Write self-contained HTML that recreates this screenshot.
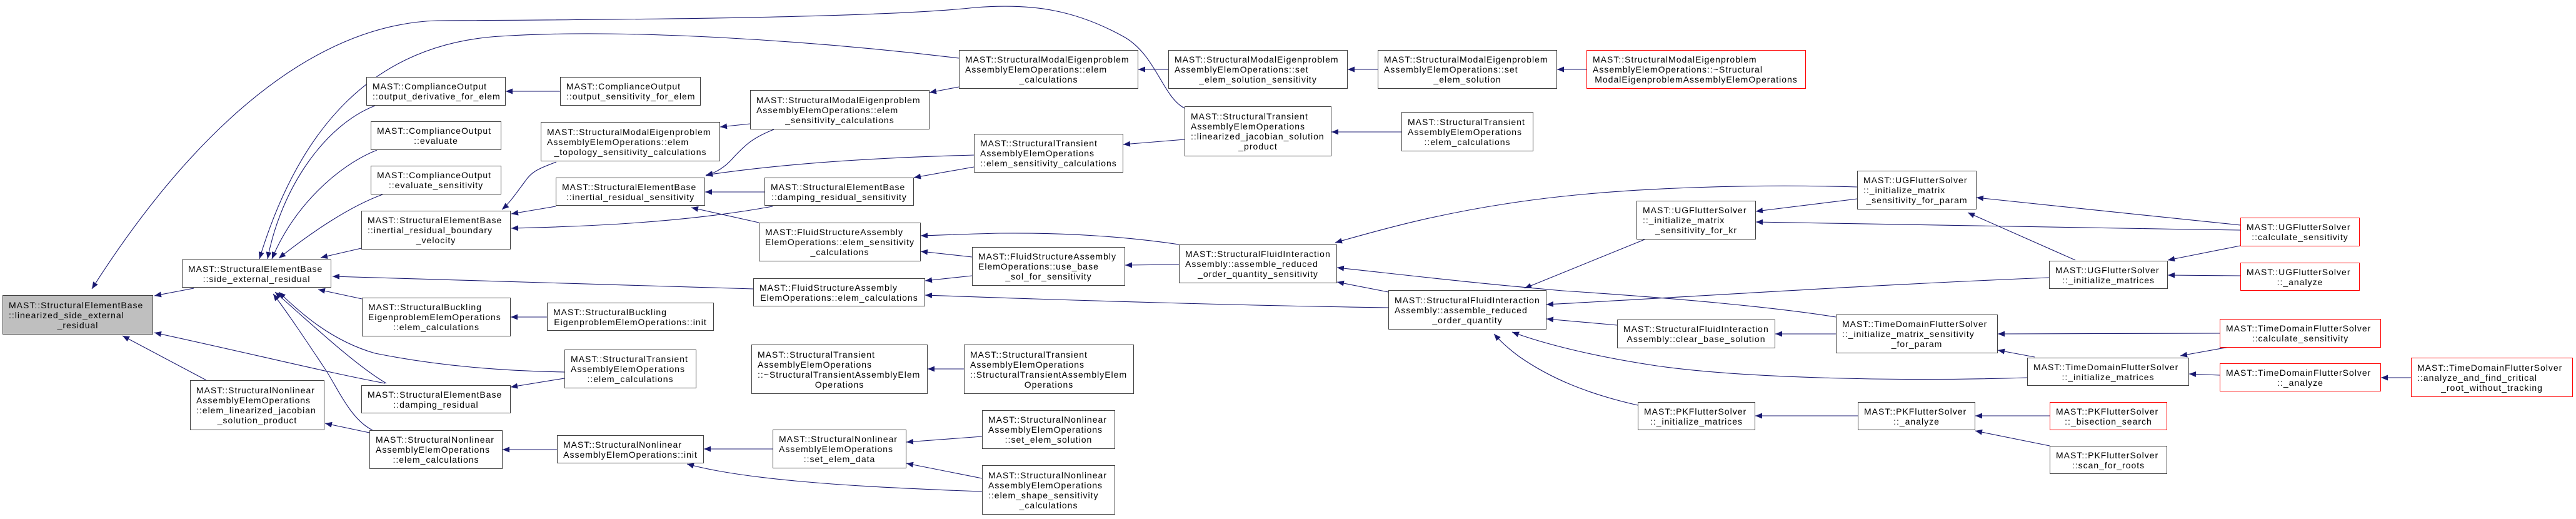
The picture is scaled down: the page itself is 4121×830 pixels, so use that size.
<!DOCTYPE html>
<html><head><meta charset="utf-8">
<style>
html,body{margin:0;padding:0;background:#fff;}
body{width:4121px;height:830px;position:relative;overflow:hidden;font-family:"Liberation Sans",Arial,sans-serif;}
svg{position:absolute;left:0;top:0;}
.n{position:absolute;box-sizing:border-box;border:1px solid #404040;background:#fff;display:flex;flex-direction:column;justify-content:center;padding:0 9px;font-size:14px;letter-spacing:1px;line-height:16px;color:#000;white-space:nowrap;}
.n div{text-align:left;}
.n div:last-child{text-align:center;}
.r{border-color:#ff0000;}
.g{background:#bfbfbf;}
</style></head><body>
<svg width="4121" height="830" viewBox="0 0 4121 830">
<defs><marker id="a" markerUnits="userSpaceOnUse" markerWidth="12" markerHeight="10" refX="11" refY="4.5" orient="auto"><path d="M0,0 L11,4.5 L0,9 z" fill="#191970"/></marker></defs>
<g fill="none" stroke="#191970" stroke-width="1.1" marker-end="url(#a)">
<path d="M310,461 L247,473"/>
<path d="M330,608 Q268,575 196,537"/>
<path d="M1895,173 C1860,155 1850,90 1800,60 C1720,15 1650,5 1560,12 C1400,30 900,32 700,33 C450,40 250,300 147,462"/>
<path d="M1534,93 C1300,65 1000,45 800,58 C600,70 480,200 415,414"/>
<path d="M600,169 C520,200 450,300 428,414"/>
<path d="M603,240 C540,265 470,330 435,414"/>
<path d="M612,311 C560,330 500,370 446,413"/>
<path d="M578,397 L513,412"/>
<path d="M1205,462 C1000,456 800,448 532,442"/>
<path d="M579,478 L509,463"/>
<path d="M903,595 C800,593 700,585 600,565 C530,545 480,500 446,467"/>
<path d="M618,613 C570,585 500,520 440,467"/>
<path d="M596,688 C560,670 540,620 520,590 C490,545 460,500 437,470"/>
<path d="M616,613 C520,595 400,565 247,532"/>
<path d="M591,692 L520,677"/>
<path d="M896,146 L809,146"/>
<path d="M890,259 C860,270 850,275 840,290 C825,310 815,325 803,335"/>
<path d="M889,330 L818,342"/>
<path d="M1236,330 C1100,355 950,362 818,365"/>
<path d="M875,507 L817,507"/>
<path d="M903,605 L817,619"/>
<path d="M891,719 L804,719"/>
<path d="M1200,198 L1152,203"/>
<path d="M1238,207 C1200,222 1190,235 1175,250 C1160,268 1145,276 1129,281"/>
<path d="M1558,248 C1400,252 1250,262 1129,280"/>
<path d="M1223,307 L1128,307"/>
<path d="M1214,356 L1106,332"/>
<path d="M1236,718 L1126,718"/>
<path d="M1571,786 C1400,780 1200,770 1099,742"/>
<path d="M1534,139 L1487,148"/>
<path d="M1869,111 L1821,111"/>
<path d="M1558,267 L1462,284"/>
<path d="M1895,223 L1797,231"/>
<path d="M1886,391 C1800,378 1700,372 1600,373 C1550,374 1510,376 1473,377"/>
<path d="M1555,411 L1473,402"/>
<path d="M1555,441 L1480,449"/>
<path d="M2221,492 C2000,489 1700,480 1480,472"/>
<path d="M1542,590 L1484,590"/>
<path d="M1571,698 L1450,707"/>
<path d="M1571,765 L1450,741"/>
<path d="M1886,423 L1800,424"/>
<path d="M2204,111 L2156,111"/>
<path d="M2538,111 L2491,111"/>
<path d="M2242,211 L2130,211"/>
<path d="M2971,299 C2800,294 2600,300 2450,320 C2300,340 2200,370 2136,388"/>
<path d="M2937,507 C2850,493 2700,478 2500,465 C2350,452 2250,440 2139,428"/>
<path d="M2221,467 L2139,451"/>
<path d="M2631,383 L2439,461"/>
<path d="M3278,444 C3000,455 2700,475 2474,487"/>
<path d="M2587,520 L2474,510"/>
<path d="M3243,604 C3050,610 2800,606 2650,585 C2550,570 2470,550 2419,531"/>
<path d="M2620,648 C2540,630 2480,605 2430,570 C2410,555 2400,545 2390,534"/>
<path d="M2971,318 L2809,338"/>
<path d="M3584,368 C3300,364 3000,358 2809,355"/>
<path d="M3584,360 C3450,347 3300,330 3162,316"/>
<path d="M3320,416 L3148,340"/>
<path d="M2937,534 L2840,534"/>
<path d="M3551,533 L3196,534"/>
<path d="M3255,571 L3196,560"/>
<path d="M2972,665 L2808,665"/>
<path d="M3279,665 L3160,665"/>
<path d="M3279,713 L3160,689"/>
<path d="M3584,393 L3468,416"/>
<path d="M3584,441 L3468,440"/>
<path d="M3566,555 L3488,569"/>
<path d="M3551,600 L3502,598"/>
<path d="M3857,604 L3809,604"/>
</g>
</svg>

<div class="n g" style="left:4px;top:472px;width:241px;height:63px"><div>MAST::StructuralElementBase</div><div>::linearized_side_external</div><div>_residual</div></div>
<div class="n" style="left:291px;top:415px;width:239px;height:45px"><div>MAST::StructuralElementBase</div><div>::side_external_residual</div></div>
<div class="n" style="left:304px;top:608px;width:215px;height:80px"><div>MAST::StructuralNonlinear</div><div>AssemblyElemOperations</div><div>::elem_linearized_jacobian</div><div>_solution_product</div></div>
<div class="n" style="left:586px;top:123px;width:223px;height:46px"><div>MAST::ComplianceOutput</div><div>::output_derivative_for_elem</div></div>
<div class="n" style="left:593px;top:194px;width:209px;height:46px"><div>MAST::ComplianceOutput</div><div>::evaluate</div></div>
<div class="n" style="left:593px;top:265px;width:209px;height:46px"><div>MAST::ComplianceOutput</div><div>::evaluate_sensitivity</div></div>
<div class="n" style="left:578px;top:337px;width:239px;height:62px"><div>MAST::StructuralElementBase</div><div>::inertial_residual_boundary</div><div>_velocity</div></div>
<div class="n" style="left:579px;top:476px;width:238px;height:62px"><div>MAST::StructuralBuckling</div><div>EigenproblemElemOperations</div><div>::elem_calculations</div></div>
<div class="n" style="left:578px;top:616px;width:239px;height:45px"><div>MAST::StructuralElementBase</div><div>::damping_residual</div></div>
<div class="n" style="left:591px;top:688px;width:213px;height:62px"><div>MAST::StructuralNonlinear</div><div>AssemblyElemOperations</div><div>::elem_calculations</div></div>
<div class="n" style="left:896px;top:123px;width:225px;height:46px"><div>MAST::ComplianceOutput</div><div>::output_sensitivity_for_elem</div></div>
<div class="n" style="left:865px;top:195px;width:287px;height:63px"><div>MAST::StructuralModalEigenproblem</div><div>AssemblyElemOperations::elem</div><div>_topology_sensitivity_calculations</div></div>
<div class="n" style="left:889px;top:284px;width:239px;height:45px"><div>MAST::StructuralElementBase</div><div>::inertial_residual_sensitivity</div></div>
<div class="n" style="left:875px;top:484px;width:267px;height:45px"><div>MAST::StructuralBuckling</div><div>EigenproblemElemOperations::init</div></div>
<div class="n" style="left:903px;top:559px;width:211px;height:62px"><div>MAST::StructuralTransient</div><div>AssemblyElemOperations</div><div>::elem_calculations</div></div>
<div class="n" style="left:891px;top:696px;width:235px;height:45px"><div>MAST::StructuralNonlinear</div><div>AssemblyElemOperations::init</div></div>
<div class="n" style="left:1200px;top:144px;width:287px;height:63px"><div>MAST::StructuralModalEigenproblem</div><div>AssemblyElemOperations::elem</div><div>_sensitivity_calculations</div></div>
<div class="n" style="left:1223px;top:284px;width:239px;height:45px"><div>MAST::StructuralElementBase</div><div>::damping_residual_sensitivity</div></div>
<div class="n" style="left:1214px;top:356px;width:259px;height:62px"><div>MAST::FluidStructureAssembly</div><div>ElemOperations::elem_sensitivity</div><div>_calculations</div></div>
<div class="n" style="left:1205px;top:445px;width:275px;height:45px"><div>MAST::FluidStructureAssembly</div><div>ElemOperations::elem_calculations</div></div>
<div class="n" style="left:1202px;top:551px;width:282px;height:79px"><div>MAST::StructuralTransient</div><div>AssemblyElemOperations</div><div>::~StructuralTransientAssemblyElem</div><div>Operations</div></div>
<div class="n" style="left:1236px;top:687px;width:214px;height:62px"><div>MAST::StructuralNonlinear</div><div>AssemblyElemOperations</div><div>::set_elem_data</div></div>
<div class="n" style="left:1534px;top:80px;width:287px;height:62px"><div>MAST::StructuralModalEigenproblem</div><div>AssemblyElemOperations::elem</div><div>_calculations</div></div>
<div class="n" style="left:1558px;top:214px;width:239px;height:62px"><div>MAST::StructuralTransient</div><div>AssemblyElemOperations</div><div>::elem_sensitivity_calculations</div></div>
<div class="n" style="left:1555px;top:395px;width:245px;height:62px"><div>MAST::FluidStructureAssembly</div><div>ElemOperations::use_base</div><div>_sol_for_sensitivity</div></div>
<div class="n" style="left:1542px;top:551px;width:272px;height:79px"><div>MAST::StructuralTransient</div><div>AssemblyElemOperations</div><div>::StructuralTransientAssemblyElem</div><div>Operations</div></div>
<div class="n" style="left:1571px;top:656px;width:213px;height:62px"><div>MAST::StructuralNonlinear</div><div>AssemblyElemOperations</div><div>::set_elem_solution</div></div>
<div class="n" style="left:1571px;top:744px;width:213px;height:79px"><div>MAST::StructuralNonlinear</div><div>AssemblyElemOperations</div><div>::elem_shape_sensitivity</div><div>_calculations</div></div>
<div class="n" style="left:1869px;top:80px;width:287px;height:62px"><div>MAST::StructuralModalEigenproblem</div><div>AssemblyElemOperations::set</div><div>_elem_solution_sensitivity</div></div>
<div class="n" style="left:1895px;top:170px;width:235px;height:80px"><div>MAST::StructuralTransient</div><div>AssemblyElemOperations</div><div>::linearized_jacobian_solution</div><div>_product</div></div>
<div class="n" style="left:1886px;top:391px;width:253px;height:62px"><div>MAST::StructuralFluidInteraction</div><div>Assembly::assemble_reduced</div><div>_order_quantity_sensitivity</div></div>
<div class="n" style="left:2204px;top:80px;width:287px;height:62px"><div>MAST::StructuralModalEigenproblem</div><div>AssemblyElemOperations::set</div><div>_elem_solution</div></div>
<div class="n r" style="left:2538px;top:80px;width:351px;height:62px"><div>MAST::StructuralModalEigenproblem</div><div>AssemblyElemOperations::~Structural</div><div>ModalEigenproblemAssemblyElemOperations</div></div>
<div class="n" style="left:2242px;top:179px;width:211px;height:63px"><div>MAST::StructuralTransient</div><div>AssemblyElemOperations</div><div>::elem_calculations</div></div>
<div class="n" style="left:2221px;top:464px;width:253px;height:63px"><div>MAST::StructuralFluidInteraction</div><div>Assembly::assemble_reduced</div><div>_order_quantity</div></div>
<div class="n" style="left:2618px;top:321px;width:191px;height:62px"><div>MAST::UGFlutterSolver</div><div>::_initialize_matrix</div><div>_sensitivity_for_kr</div></div>
<div class="n" style="left:2587px;top:511px;width:253px;height:46px"><div>MAST::StructuralFluidInteraction</div><div>Assembly::clear_base_solution</div></div>
<div class="n" style="left:2620px;top:643px;width:188px;height:45px"><div>MAST::PKFlutterSolver</div><div>::_initialize_matrices</div></div>
<div class="n" style="left:2971px;top:273px;width:191px;height:62px"><div>MAST::UGFlutterSolver</div><div>::_initialize_matrix</div><div>_sensitivity_for_param</div></div>
<div class="n" style="left:3278px;top:417px;width:190px;height:45px"><div>MAST::UGFlutterSolver</div><div>::_initialize_matrices</div></div>
<div class="n" style="left:2937px;top:503px;width:259px;height:62px"><div>MAST::TimeDomainFlutterSolver</div><div>::_initialize_matrix_sensitivity</div><div>_for_param</div></div>
<div class="n" style="left:3243px;top:572px;width:259px;height:45px"><div>MAST::TimeDomainFlutterSolver</div><div>::_initialize_matrices</div></div>
<div class="n" style="left:2972px;top:643px;width:188px;height:45px"><div>MAST::PKFlutterSolver</div><div>::_analyze</div></div>
<div class="n r" style="left:3279px;top:643px;width:188px;height:45px"><div>MAST::PKFlutterSolver</div><div>::_bisection_search</div></div>
<div class="n" style="left:3279px;top:713px;width:188px;height:45px"><div>MAST::PKFlutterSolver</div><div>::scan_for_roots</div></div>
<div class="n r" style="left:3584px;top:348px;width:191px;height:46px"><div>MAST::UGFlutterSolver</div><div>::calculate_sensitivity</div></div>
<div class="n r" style="left:3584px;top:420px;width:191px;height:45px"><div>MAST::UGFlutterSolver</div><div>::_analyze</div></div>
<div class="n r" style="left:3551px;top:510px;width:258px;height:46px"><div>MAST::TimeDomainFlutterSolver</div><div>::calculate_sensitivity</div></div>
<div class="n r" style="left:3551px;top:581px;width:258px;height:45px"><div>MAST::TimeDomainFlutterSolver</div><div>::_analyze</div></div>
<div class="n r" style="left:3857px;top:572px;width:259px;height:63px"><div>MAST::TimeDomainFlutterSolver</div><div>::analyze_and_find_critical</div><div>_root_without_tracking</div></div>
</body></html>
